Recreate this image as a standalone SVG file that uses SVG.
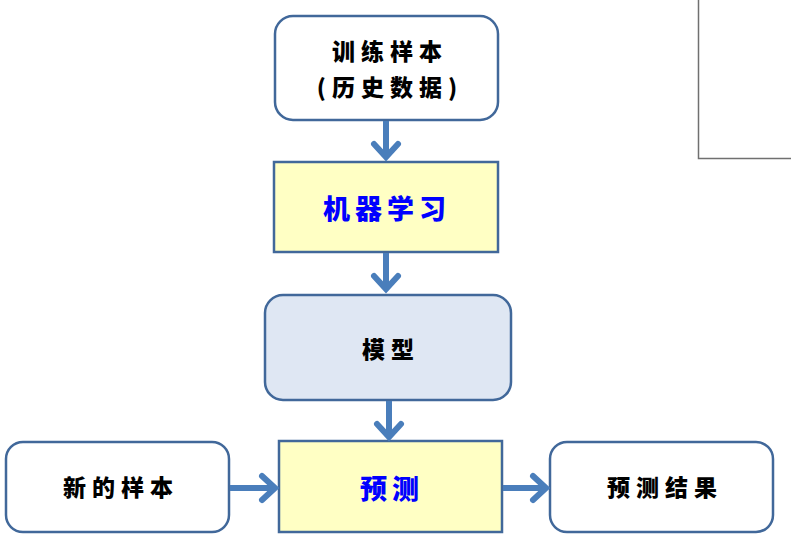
<svg xmlns="http://www.w3.org/2000/svg" width="791" height="552" viewBox="0 0 791 552">
<style>
.box{stroke:#41689a;stroke-width:2.5}
.w{fill:#ffffff}
.y{fill:#ffffc4}
.b{fill:#dfe7f3}
.t{font-family:"Noto Sans CJK SC","Noto Sans",sans-serif;font-weight:900;fill:#000;text-anchor:middle;font-size:23px;letter-spacing:6px}
.tb{fill:#0000ff;font-size:27px;letter-spacing:5px}
.c{fill:none;stroke:#4a7ebb;stroke-width:6}
.h{fill:none;stroke:#4a7ebb;stroke-width:6;stroke-linecap:round;stroke-linejoin:miter}
</style>
<rect x="0" y="0" width="791" height="552" fill="#ffffff"/>
<path d="M698.5 0 V158.5 H791" fill="none" stroke="#707070" stroke-width="1.5"/>
<g id="n1"><rect class="box w" x="275" y="16" width="223" height="104" rx="18"/>
<text class="t" x="390" y="60">训练样本</text><text class="t" x="390" y="96">(历史数据)</text></g>
<g id="n2"><rect class="box y" x="274" y="162" width="224" height="90"/>
<text class="t tb" x="387" y="219">机器学习</text></g>
<g id="n3"><rect class="box b" x="265" y="295" width="246" height="105" rx="18"/>
<text class="t" x="391" y="358">模型</text></g>
<g id="n4"><rect class="box y" x="279" y="441" width="223" height="91"/>
<text class="t tb" x="392" y="499">预测</text></g>
<g id="n5"><rect class="box w" x="6" y="442" width="223" height="90" rx="17"/>
<text class="t" x="121" y="496">新的样本</text></g>
<g id="n6"><rect class="box w" x="550" y="442" width="223" height="90" rx="17"/>
<text class="t" x="665" y="496">预测结果</text></g>
<g id="connectors">
<path class="c" d="M386 121 V158"/><path class="h" d="M374 144 L386 157 L398 144"/>
<path class="c" d="M386 253 V289"/><path class="h" d="M374 276 L386 289 L398 276"/>
<path class="c" d="M389 401 V437"/><path class="h" d="M377 424 L389 437 L401 424"/>
<path class="c" d="M230 488 H275"/><path class="h" d="M262 476 L275 488 L262 500"/>
<path class="c" d="M503 488 H546"/><path class="h" d="M533 476 L546 488 L533 500"/>
</g>
</svg>
